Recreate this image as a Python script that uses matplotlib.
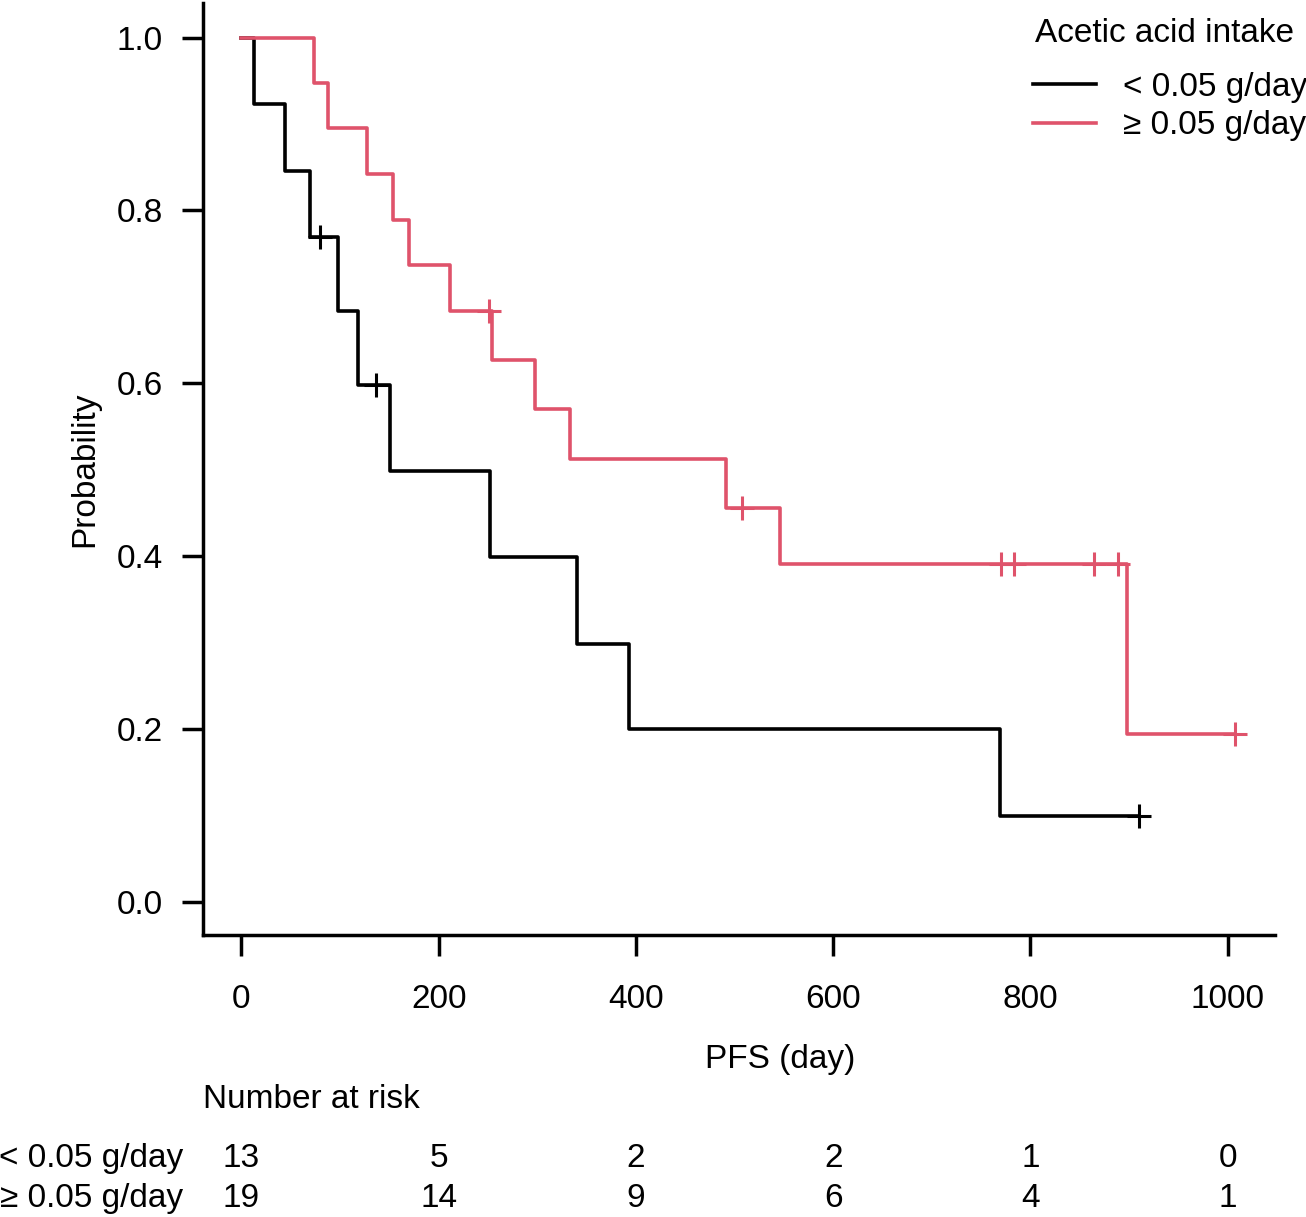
import matplotlib
matplotlib.use("Agg")
import matplotlib.pyplot as plt
import matplotlib.transforms as mtransforms

plt.rcParams['font.family'] = ['Liberation Sans', 'DejaVu Sans']

# Kaplan-Meier steps (time in days, survival after step)
low_times = [0, 13, 44, 70, 98, 118, 151, 252, 340, 393, 769, 910]
low_surv = [1.0, 0.923, 0.846, 0.769, 0.684, 0.598, 0.499, 0.399, 0.299, 0.200, 0.100, 0.100]
low_cens_t = [80, 136, 910]
low_cens_s = [0.769, 0.598, 0.100]

high_times = [0, 74, 88, 127, 154, 170, 211, 254, 298, 333, 491, 546, 898, 1007]
high_surv = [1.0, 0.947, 0.895, 0.842, 0.789, 0.737, 0.684, 0.627, 0.570, 0.513,
             0.456, 0.391, 0.195, 0.195]
high_cens_t = [251, 508, 770, 783, 864, 889, 1007]
high_cens_s = [0.684, 0.456, 0.391, 0.391, 0.391, 0.391, 0.195]

group_labels = ["< 0.05 g/day", "\u2265 0.05 g/day"]
risk_times = [0, 200, 400, 600, 800, 1000]
risk_low = [13, 5, 2, 2, 1, 0]
risk_high = [19, 14, 9, 6, 4, 1]

black = "black"
red = "#DF536B"
fs = 24

fig = plt.figure(figsize=(13.06, 12.17), dpi=100)
ax = fig.add_axes([203 / 1306, 1 - 935 / 1217, 1072 / 1306, 932 / 1217])

ax.step(low_times, low_surv, where='post', color=black, lw=2.6, label=group_labels[0])
ax.step(high_times, high_surv, where='post', color=red, lw=2.6, label=group_labels[1])
ax.plot(low_cens_t, low_cens_s, ls='none', marker='+', ms=17, mew=2.2, color=black)
ax.plot(high_cens_t, high_cens_s, ls='none', marker='+', ms=17, mew=2.2, color=red)

ax.set_xlim(-39, 1048)
ax.set_ylim(-0.038, 1.04)
ax.spines['top'].set_visible(False)
ax.spines['right'].set_visible(False)
ax.spines['left'].set_linewidth(2.5)
ax.spines['bottom'].set_linewidth(2.5)

ax.set_xticks(risk_times)
ax.set_yticks([0, 0.2, 0.4, 0.6, 0.8, 1.0])
ax.set_yticklabels(["0.0", "0.2", "0.4", "0.6", "0.8", "1.0"])
ax.tick_params(axis='both', direction='out', length=15, width=2.5, labelsize=fs)
ax.tick_params(axis='x', pad=20)
ax.tick_params(axis='y', pad=14)

ax.set_ylabel("Probability", fontsize=fs)
ax.yaxis.set_label_coords(-0.096, 0.5)
ax.set_xlabel("PFS (day)", fontsize=fs)
ax.xaxis.set_label_coords(0.538, -0.117)

# legend: title as its own text so the gap below it can match
fig.text(1035 / 1306, 1 - 33 / 1217, "Acetic acid intake", fontsize=fs,
         ha='left', va='center')
leg = ax.legend(loc='upper left',
                bbox_to_anchor=(1033 / 1306, 1 - 72 / 1217), bbox_transform=fig.transFigure,
                frameon=False, fontsize=fs,
                handlelength=1.9, handletextpad=0.8, labelspacing=0.22,
                borderpad=0, borderaxespad=0)

# number at risk table
trans = mtransforms.blended_transform_factory(ax.transData, ax.transAxes)
ax.text(0, -0.177, "Number at risk", transform=ax.transAxes, fontsize=fs,
        ha='left', va='center', clip_on=False)
for row_y, label, counts in [(-0.240, group_labels[0], risk_low),
                             (-0.283, group_labels[1], risk_high)]:
    ax.text(-20 / 1072, row_y, label, transform=ax.transAxes, fontsize=fs,
            ha='right', va='center', clip_on=False)
    for t, n in zip(risk_times, counts):
        ax.text(t, row_y, str(n), transform=trans, fontsize=fs,
                ha='center', va='center', clip_on=False)

fig.savefig("out.png", dpi=100)
